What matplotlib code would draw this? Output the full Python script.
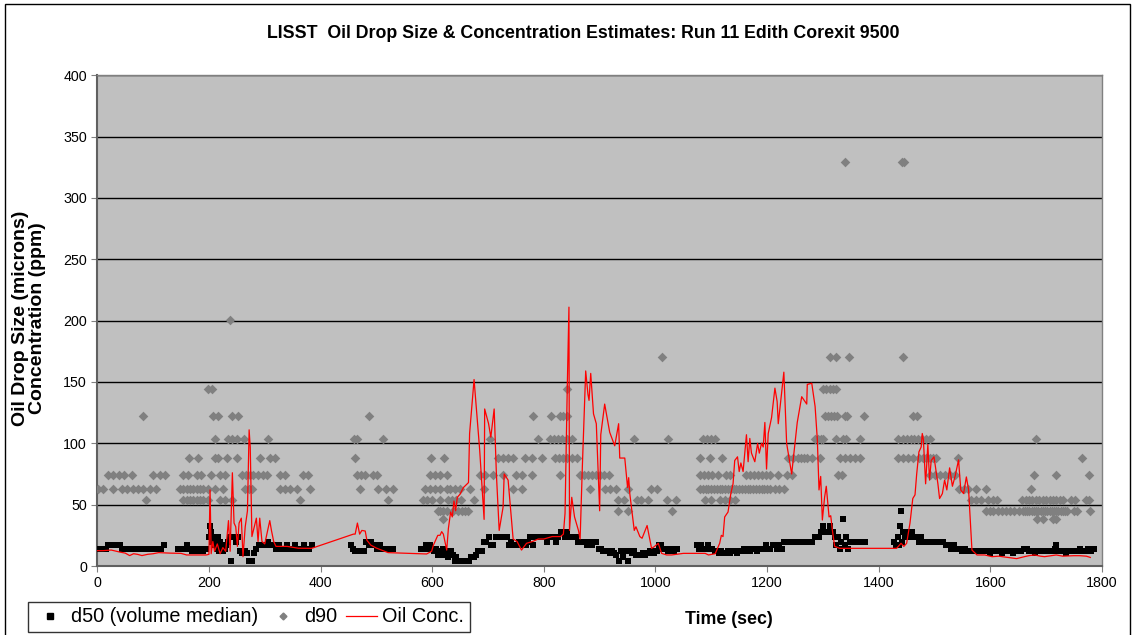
import matplotlib
matplotlib.use("Agg")
import matplotlib.pyplot as plt
from matplotlib.lines import Line2D
from matplotlib.patches import Rectangle

plt.rcParams['font.family'] = ['Liberation Sans', 'DejaVu Sans']

TITLE = "LISST  Oil Drop Size & Concentration Estimates: Run 11 Edith Corexit 9500"
YLABEL = "Oil Drop Size (microns)\nConcentration (ppm)"
XLABEL = "Time (sec)"
x_ticks = [0, 200, 400, 600, 800, 1000, 1200, 1400, 1600, 1800]
y_ticks = [0, 50, 100, 150, 200, 250, 300, 350, 400]

# ---- d50 (volume median), time (s) / size (microns) ----
d50_seg1 = [(0,14.2),(5,14.2),(10,14.2),(15,14.2),(20,16.8),(25,16.8),(30,16.8),(35,16.8),(40,16.8),(45,14.2),
            (50,14.2),(55,14.2),(60,14.2),(65,14.2),(70,14.2),(75,14.2),(80,14.2),(85,14.2),(90,14.2),(95,14.2),
            (100,14.2),(105,14.2),(110,14.2),(115,14.2),(120,16.8),(145,14.2),(150,14.2),(155,14.2),(160,16.8),
            (165,14.2),(170,12.0),(175,14.2),(180,12.0),(185,14.2),(190,12.0),(195,14.2),(200,23.3),(202,32.5),
            (204,27.5),(206,19.8),(208,23.3),(210,16.8),(212,19.8),(214,14.2),(216,23.3),(218,12.0),(220,19.8),
            (222,16.8),(225,12.0),(228,14.2),(231,16.8),(234,19.8),(237,23.3),(240,3.78),(243,23.3),(246,23.3),
            (249,19.8),(252,23.3),(256,12.0),(260,10.2),(264,12.0),(268,10.2),(271,4.46),(274,3.78),(277,4.46),
            (281,10.2),(285,14.2),(290,16.8),(295,16.8),(300,16.8),(305,19.8),(310,16.8),(315,16.8),(320,14.2),
            (325,16.8),(330,14.2),(335,14.2),(340,16.8),(345,14.2),(350,14.2),(355,16.8),(360,14.2),(365,14.2),
            (370,16.8),(375,14.2),(380,14.2),(385,16.8)]
d50_seg2 = [(455,16.8),(459,14.2),(462,12.0),(466,12.0),(470,12.0),(474,12.0),(478,12.0),(482,19.8),(486,16.8),
            (490,19.8),(494,16.8),(498,16.8),(502,14.2),(506,16.8),(510,14.2),(514,14.2),(518,14.2),(522,14.2),
            (526,14.2),(530,14.2)]
d50_seg3 = [(580,14.2),(584,14.2),(588,16.8),(592,14.2),(596,16.8),(600,14.2),(604,12.0),(607,14.2),(610,8.65),
            (613,12.0),(616,10.2),(619,14.2),(622,8.65),(625,12.0),(628,7.33),(631,10.2),(634,12.0),(637,8.65),
            (640,4.46),(643,7.33),(646,3.78),(650,4.46),(654,3.78),(658,4.46),(662,3.78),(666,4.46),(670,7.33),
            (674,7.33),(678,8.65),(682,12.0),(686,12.0),(690,12.0),(693,19.8),(697,19.8),(701,23.3),(705,16.8),
            (709,16.8),(714,23.3),(718,23.3),(722,23.3),(726,23.3),(730,23.3),(734,23.3),(738,16.8),(742,19.8),
            (746,16.8),(750,16.8),(755,19.8),(760,16.8),(764,19.8),(768,16.8),(772,19.8),(776,23.3),(780,16.8),
            (784,23.3),(788,23.3),(792,23.3),(796,23.3),(800,23.3),(805,19.8),(810,23.3),(814,23.3),(818,23.3),
            (822,19.8),(826,23.3),(830,27.5),(834,27.5),(838,23.3),(842,27.5),(846,23.3),(850,23.3),(854,23.3),
            (858,23.3),(862,19.8),(866,19.8),(870,19.8),(874,19.8),(878,16.8),(882,19.8),(886,16.8),(890,19.8),
            (894,19.8),(898,14.2),(902,14.2),(906,12.0),(910,12.0),(914,12.0),(918,10.2),(922,12.0),(926,10.2),
            (930,8.65),(934,3.78),(938,12.0),(942,7.33),(946,12.0),(950,3.78),(954,12.0),(958,10.2),(962,12.0),
            (966,8.65),(970,8.65),(974,8.65),(978,10.2),(982,8.65),(986,10.2),(990,12.0),(994,12.0),(998,10.2),
            (1002,12.0),(1006,16.8),(1010,16.8),(1014,14.2),(1018,14.2),(1022,12.0),(1026,14.2),(1030,14.2),
            (1034,12.0),(1038,14.2)]
d50_seg4 = [(1074,16.8),(1078,14.2),(1082,16.8),(1086,14.2),(1090,14.2),(1094,16.8),(1098,14.2),(1102,14.2),
            (1106,12.0),(1110,12.0),(1114,10.2),(1118,12.0),(1122,10.2),(1126,10.2),(1130,12.0),(1134,10.2),
            (1138,12.0),(1142,12.0),(1146,10.2),(1150,12.0),(1154,12.0),(1158,14.2),(1162,12.0),(1166,14.2),
            (1170,12.0),(1174,14.2),(1178,14.2),(1182,12.0),(1186,14.2),(1190,14.2),(1194,14.2),(1198,16.8),
            (1202,14.2),(1206,14.2),(1210,16.8),(1214,16.8),(1218,14.2),(1222,16.8),(1226,14.2),(1231,19.8),
            (1236,19.8),(1241,19.8),(1246,19.8),(1251,19.8),(1256,19.8),(1261,19.8),(1266,19.8),(1271,19.8),
            (1276,19.8),(1281,19.8),(1285,23.3),(1289,23.3),(1293,23.3),(1297,27.5),(1300,32.5),(1303,27.5),
            (1306,27.5),(1309,27.5),(1312,32.5),(1315,27.5),(1318,27.5),(1321,23.3),(1324,16.8),(1327,23.3),
            (1330,14.2),(1333,19.8),(1336,38.3),(1339,16.8),(1342,23.3),(1345,14.2),(1348,19.8),(1352,19.8),
            (1356,19.8),(1360,19.8),(1364,19.8),(1368,19.8),(1372,19.8),(1376,19.8)]
d50_seg5 = [(1428,19.8),(1431,16.8),(1434,23.3),(1437,16.8),(1438,32.5),(1440,45.2),(1442,19.8),(1444,27.5),
            (1447,23.3),(1450,27.5),(1453,27.5),(1456,23.3),(1460,27.5),(1464,23.3),(1468,23.3),(1472,19.8),
            (1476,23.3),(1480,19.8),(1484,19.8),(1488,19.8),(1492,19.8),(1496,19.8),(1500,19.8),(1505,19.8),
            (1510,19.8),(1515,19.8),(1520,16.8),(1525,16.8),(1530,14.2),(1535,16.8),(1540,14.2),(1545,14.2),
            (1550,12.0),(1555,14.2),(1560,12.0),(1565,12.0),(1570,12.0),(1575,12.0),(1580,12.0),(1585,12.0),
            (1590,12.0),(1595,12.0),(1600,10.2),(1605,12.0),(1610,12.0),(1615,12.0),(1620,10.2),(1625,12.0),
            (1630,12.0),(1635,12.0),(1640,10.2),(1645,12.0),(1650,12.0),(1655,12.0),(1660,14.2),(1665,14.2),
            (1670,12.0),(1675,12.0),(1680,10.2),(1685,12.0),(1690,12.0),(1695,12.0),(1700,12.0),(1705,12.0),
            (1710,12.0),(1715,14.2),(1718,16.8),(1722,12.0),(1726,12.0),(1730,12.0),(1735,10.2),(1740,12.0),
            (1745,12.0),(1750,12.0),(1755,12.0),(1760,14.2),(1765,12.0),(1770,12.0),(1775,14.2),(1780,12.0),
            (1785,14.2)]

# ---- d90: times (s) at which d90 fell in each LISST size bin (microns) ----
d90_330 = [1340, 1441, 1445]
d90_201 = [238]
d90_170 = [1011, 1312, 1323, 1347, 1443]
d90_144 = [199, 205, 842, 1300, 1306, 1312, 1318, 1324]
d90_122 = [82, 208, 217, 241, 252, 487, 780, 812, 829, 835, 841, 1303, 1309, 1314, 1319, 1325, 1339, 1344,
           1374, 1462, 1468]
d90_104 = [211, 235, 241, 250, 263, 306, 460, 465, 512, 703, 789, 811, 818, 825, 832, 841, 850, 961, 1023,
           1085, 1092, 1099, 1106, 1285, 1291, 1296, 1301, 1323, 1336, 1341, 1367, 1434, 1443, 1450, 1457,
           1464, 1471, 1478, 1485, 1492, 1681]
d90_88 = [165, 180, 211, 216, 232, 250, 291, 309, 318, 462, 598, 622, 718, 727, 736, 745, 766, 778, 797, 820,
          827, 834, 841, 850, 859, 1080, 1097, 1120, 1238, 1246, 1255, 1260, 1266, 1271, 1280, 1294, 1330,
          1339, 1348, 1357, 1367, 1434, 1443, 1452, 1461, 1473, 1479, 1485, 1491, 1497, 1503, 1542, 1765]
d90_74 = [20, 29, 38, 48, 62, 99, 112, 121, 154, 163, 178, 186, 204, 220, 229, 259, 266, 273, 279, 288, 297,
          304, 327, 336, 369, 378, 465, 472, 480, 494, 502, 596, 605, 614, 626, 685, 694, 709, 727, 751, 761,
          778, 829, 865, 872, 879, 886, 893, 900, 907, 917, 1080, 1087, 1094, 1101, 1112, 1126, 1133, 1163,
          1169, 1176, 1183, 1190, 1198, 1205, 1220, 1235, 1244, 1327, 1334, 1491, 1500, 1509, 1518, 1527,
          1536, 1679, 1718, 1777]
d90_63 = [1, 11, 29, 45, 54, 64, 73, 82, 94, 106, 148, 154, 160, 166, 172, 178, 184, 190, 199, 211, 226, 265,
          272, 277, 327, 336, 345, 357, 381, 470, 503, 518, 530, 587, 596, 605, 614, 626, 632, 641, 650, 668,
          693, 744, 761, 882, 909, 918, 930, 950, 992, 1002, 1080, 1085, 1090, 1095, 1100, 1105, 1110, 1115,
          1120, 1125, 1130, 1135, 1140, 1145, 1150, 1155, 1160, 1165, 1170, 1175, 1180, 1185, 1190, 1195,
          1200, 1205, 1214, 1222, 1231, 1544, 1553, 1560, 1575, 1592, 1672]
d90_53 = [88, 154, 160, 166, 172, 178, 184, 190, 199, 220, 229, 241, 363, 521, 584, 590, 599, 614, 628, 636,
          643, 651, 675, 933, 944, 967, 974, 987, 1020, 1036, 1088, 1100, 1115, 1124, 1133, 1142, 1566, 1575,
          1584, 1595, 1604, 1611, 1657, 1663, 1669, 1675, 1682, 1688, 1694, 1700, 1706, 1712, 1718, 1724,
          1730, 1745, 1752, 1771, 1776]
d90_45 = [611, 614, 620, 626, 638, 647, 654, 659, 665, 933, 950, 1029, 1593, 1600, 1605, 1613, 1621, 1628,
          1636, 1643, 1652, 1658, 1662, 1666, 1670, 1674, 1678, 1682, 1686, 1690, 1694, 1698, 1702, 1706,
          1710, 1714, 1718, 1722, 1726, 1730, 1734, 1738, 1749, 1755, 1779]
d90_38 = [620, 1683, 1694, 1712, 1717]
d90_bins = [(329.6, d90_330), (200.6, d90_201), (170.0, d90_170), (144.1, d90_144), (122.1, d90_122),
            (103.5, d90_104), (87.7, d90_88), (74.3, d90_74), (63.0, d90_63), (53.4, d90_53),
            (45.2, d90_45), (38.3, d90_38)]

# ---- Oil concentration (ppm) ----
oil_seg1 = [(0,12.5),(10,12.5),(25,13),(40,11.4),(50,10.5),(58,8.5),(65,10),(72,9.5),(80,8.5),(90,9.5),
            (100,10),(110,10.9),(130,10.5),(150,10.3),(160,9),(175,9),(195,9),(200,9.5),(202,62),(204,10),
            (207,20),(210,12),(215,18),(220,10),(225,15),(230,12),(235,37),(238,12),(242,76),(245,35),(248,32),
            (251,16),(254,35),(258,39),(261,7.6),(265,32),(269,45),(272,111),(274,97),(277,24),(285,39),
            (288,20),(291,39),(295,20),(300,18),(309,37),(312,29),(316,20),(320,16),(340,16),(360,14.5),
            (384,14.4)]
oil_seg2 = [(459,26),(462,26),(466,35),(470,26),(474,29),(480,28.5),(483,21),(490,17),(500,14.6),(521,10.9),
            (560,10.3),(590,9.8),(599,12),(602,16.8),(610,25),(614,25),(617,28),(620,26),(626,13),(629,30.6),
            (633,44),(636,40),(639,53),(642,45),(645,56),(650,58.6),(656,64),(665,68),(667,108),(675,152),
            (685,95),(693,38),(694,128),(701,116),(705,105),(711,128),(715,75),(720,29),(727,48),(729,75),
            (736,70),(745,22),(752,20),(760,13),(769,18.5),(780,20),(790,22),(800,22),(815,24),(830,24),
            (835,26),(838,43),(842,146),(845,211),(846,29),(850,56),(855,40),(862,29),(865,22),(869,81),
            (875,159),(879,140),(881,135),(884,157),(889,124),(894,116),(900,45),(902,107),(909,132),(918,109),
            (927,98),(934,116),(936,88),(945,88),(950,64),(952,72),(954,59),(962,29),(965,32),(972,24),
            (976,22.6),(985,33),(993,14.4),(998,15.8),(1005,18.5),(1011,10.3),(1020,9),(1029,9),(1050,10.3)]
oil_seg3 = [(1089,10.3),(1095,9),(1107,10),(1115,18.5),(1118,25),(1121,24),(1124,40),(1130,44),(1135,59),
            (1139,67),(1142,86),(1147,89),(1150,77),(1153,84),(1157,77),(1160,92),(1163,107),(1166,85),
            (1169,104),(1172,92),(1178,85),(1183,100),(1186,92),(1190,100),(1193,97),(1196,117),(1199,79),
            (1202,108),(1208,121),(1214,145),(1218,134),(1220,116),(1230,158),(1235,100),(1244,75),(1254,117),
            (1262,138),(1271,132),(1272,148),(1280,149),(1286,130),(1290,103),(1293,62),(1296,73),(1299,37.5),
            (1303,56),(1306,65),(1311,40),(1314,41),(1317,29),(1321,16),(1330,14.4)]
oil_seg4 = [(1432,14.4),(1440,18.5),(1445,16),(1450,18.5),(1456,35),(1461,55),(1465,58),(1468,75),(1472,93),
            (1476,97),(1478,108),(1480,103),(1484,67),(1488,99),(1491,70),(1494,86),(1499,89),(1506,67),
            (1509,55),(1514,59),(1518,70),(1522,62),(1527,80),(1532,65),(1537,73.5),(1543,86.5),(1547,62),
            (1552,59),(1557,72.6),(1561,62),(1567,13),(1576,9),(1590,9),(1603,7.6),(1615,8),(1631,7),(1647,6),
            (1661,7.6),(1670,8.5),(1679,9),(1690,8),(1697,7.6),(1710,8.5),(1718,9),(1730,8),(1749,8.4),
            (1760,8.4),(1772,8),(1779,7)]

# ---------------- drawing ----------------
W, H = 1135, 635
fig = plt.figure(figsize=(W / 100, H / 100), dpi=100)
fig.patch.set_facecolor('white')

ax = fig.add_axes([97.3 / W, 1 - 566 / H, (1102 - 97.3) / W, (566 - 75.3) / H])
ax.set_facecolor('#C0C0C0')

d50_pts = d50_seg1 + d50_seg2 + d50_seg3 + d50_seg4 + d50_seg5
ax.scatter([p[0] for p in d50_pts], [p[1] for p in d50_pts], marker='s', s=18, color='black',
           linewidths=0, zorder=3)

d90_t, d90_v = [], []
for val, times in d90_bins:
    d90_t += times
    d90_v += [val] * len(times)
ax.scatter(d90_t, d90_v, marker='D', s=24, color='#808080', linewidths=0, zorder=4)

oil_pts = oil_seg1 + oil_seg2 + oil_seg3 + oil_seg4
ax.plot([p[0] for p in oil_pts], [p[1] for p in oil_pts], color='#FF0000', lw=0.9, zorder=5)

ax.set_xlim(0, 1800)
ax.set_ylim(0, 400)
ax.set_xticks(x_ticks)
ax.set_yticks(y_ticks)
ax.yaxis.grid(True, color='black', lw=1.0)
ax.set_axisbelow(True)
ax.tick_params(axis='both', labelsize=10.3, length=4, width=0.8, color='#808080', direction='out')
for s in ['top', 'right']:
    ax.spines[s].set_color('#808080')
    ax.spines[s].set_linewidth(1.0)
for s in ['left', 'bottom']:
    ax.spines[s].set_color('#606060')
    ax.spines[s].set_linewidth(1.5)

fig.text(583 / W, 1 - 33 / H, TITLE, ha='center', va='center', fontsize=12.8, fontweight='bold')
fig.text(29 / W, 1 - 318 / H, YLABEL, ha='center', va='center', rotation=90, fontsize=14,
         fontweight='bold', linespacing=0.95)
fig.text(729 / W, 1 - 619 / H, XLABEL, ha='center', va='center', fontsize=12.8, fontweight='bold')

handles = [Line2D([], [], marker='s', ls='none', color='black', markersize=4),
           Line2D([], [], marker='D', ls='none', color='#808080', markersize=3.5),
           Line2D([], [], color='#FF0000', lw=0.9)]
leg = fig.legend(handles, ['d50 (volume median)', 'd90', 'Oil Conc.'], loc='upper left',
                 bbox_to_anchor=(28 / W, 1 - 601.5 / H), ncol=3, fontsize=14.3, frameon=True,
                 fancybox=False, edgecolor='black', borderpad=0.3, handlelength=1.6,
                 handletextpad=0.25, columnspacing=0.45, borderaxespad=0)
leg.get_frame().set_linewidth(1.0)

fig.patches.append(Rectangle((5 / W, -0.05), (1130 - 5) / W, 1.05 - 4 / H, transform=fig.transFigure,
                             fill=False, edgecolor='black', lw=1.0))

fig.savefig('out.png', dpi=100, facecolor='white')
